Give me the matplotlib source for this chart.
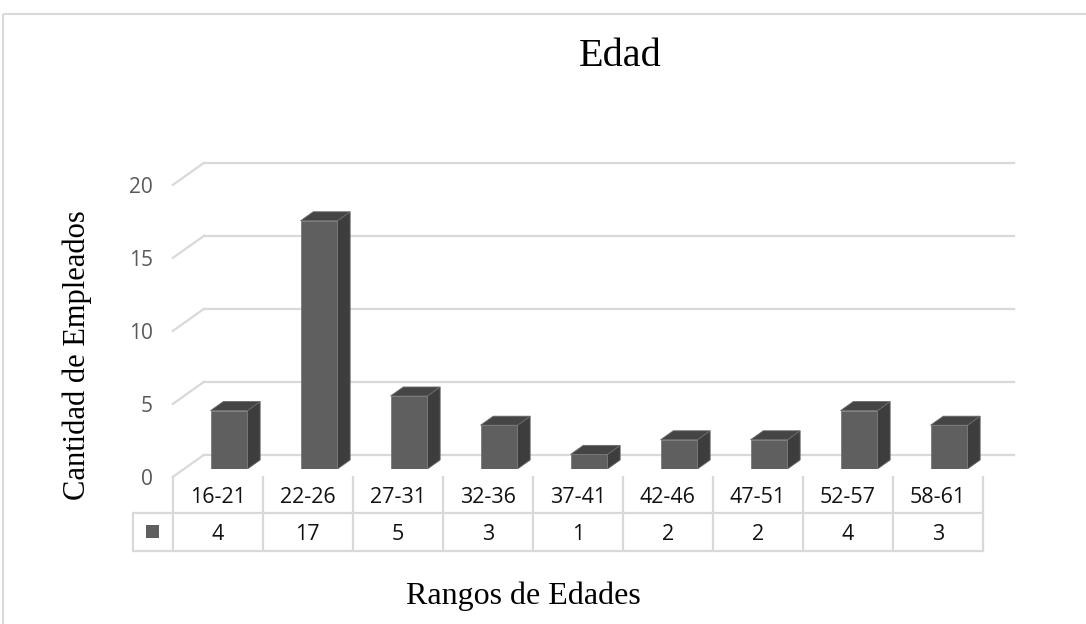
import matplotlib.pyplot as plt
from matplotlib.patches import Polygon, Rectangle

# data
rangos = ["16-21", "22-26", "27-31", "32-36", "37-41", "42-46", "47-51", "52-57", "58-61"]
empleados = [4, 17, 5, 3, 1, 2, 2, 4, 3]
y_ticks = [0, 5, 10, 15, 20]

W, H = 1086, 624
fig = plt.figure(figsize=(W / 100, H / 100), dpi=100)

# chart frame
frame = fig.add_axes([0, 0, 1, 1])
frame.set_xlim(0, W)
frame.set_ylim(H, 0)
frame.axis("off")
frame.add_patch(Rectangle((3, 14), W + 10, H, fill=False, ec="#d9d9d9", lw=1.5))

# plot area in the bars' front plane: 90 px per category, 14.6 px per unit
PX_X, PX_Y = 90.0, 14.6
left_px, base_px, top_px = 184, 469, 150
ax = fig.add_axes([left_px / W, (H - base_px) / H, 9 * PX_X / W, (base_px - top_px) / H])
ax.set_xlim(-0.5, 8.5)
ax.set_ylim(0, (base_px - top_px) / PX_Y)
ax.axis("off")

# oblique depth vector (31 px right, 22 px up) in data units
dx, dy = 31 / PX_X, 22 / PX_Y
f_front, f_back = -0.36, 0.64   # wall planes relative to bar front
f_bar = 0.41                    # depth of the bars
grid_c = "#d9d9d9"
sans = "Open Sans"

for v in y_ticks:
    x0, y0 = -0.5 + f_front * dx, v + f_front * dy
    x1, y1 = -0.5 + f_back * dx, v + f_back * dy
    ax.plot([x0, x1], [y0, y1], color=grid_c, lw=1.6, clip_on=False, zorder=1)
    ax.plot([x1, 8.5 + f_back * dx], [y1, y1], color=grid_c, lw=1.6, clip_on=False, zorder=1)
    ax.text(x0 - 0.22, y0 - 0.15, str(v), ha="right", va="center", fontsize=15,
            color="#595959", family=sans)

bw = 0.41
bx, by = f_bar * dx, f_bar * dy
for i, v in enumerate(empleados):
    l, r = i - bw / 2, i + bw / 2
    ax.add_patch(Polygon([(r, 0), (r + bx, by), (r + bx, v + by), (r, v)],
                         closed=True, fc="#3d3d3d", ec="#6a6a6a", lw=0.6, zorder=3))
    ax.add_patch(Polygon([(l, v), (r, v), (r + bx, v + by), (l + bx, v + by)],
                         closed=True, fc="#454545", ec="#6a6a6a", lw=0.6, zorder=3))
    ax.add_patch(Rectangle((l, 0), bw, v, fc="#5f5f5f", ec="#7a7a7a", lw=0.6, zorder=4))

# data table under the axis
tx0 = -0.5 + f_front * dx
t_top = f_front * dy
t_mid = t_top - 36 / PX_Y
t_bot = t_mid - 38 / PX_Y
t_leg = tx0 - 40 / PX_X
n = len(rangos)
tbl = dict(color=grid_c, lw=1.6, clip_on=False, zorder=1)
ax.plot([t_leg, tx0 + n], [t_mid, t_mid], **tbl)
ax.plot([t_leg, tx0 + n], [t_bot, t_bot], **tbl)
ax.plot([t_leg, t_leg], [t_mid, t_bot], **tbl)
for k in range(n + 1):
    ax.plot([tx0 + k, tx0 + k], [t_top, t_bot], **tbl)
for i, (lab, v) in enumerate(zip(rangos, empleados)):
    cx = tx0 + i + 0.5
    ax.text(cx, (t_top + t_mid) / 2 - 0.15, lab, ha="center", va="center",
            fontsize=15.5, color="#111111", family=sans)
    ax.text(cx, (t_mid + t_bot) / 2 - 0.15, str(v), ha="center", va="center",
            fontsize=15.5, color="#111111", family=sans)
lw_sq = 13 / PX_X
lh_sq = 13 / PX_Y
lcx, lcy = (t_leg + tx0) / 2, (t_mid + t_bot) / 2
ax.add_patch(Rectangle((lcx - lw_sq / 2, lcy - lh_sq / 2), lw_sq, lh_sq,
                       fc="#5f5f5f", ec="none", clip_on=False))

# titles
serif = "Liberation Serif"
fig.text(620 / W, 1 - 57 / H, "Edad", ha="center", va="center", fontsize=29, family=serif)
fig.text(523 / W, 1 - 596 / H, "Rangos de Edades", ha="center", va="center",
         fontsize=23, family=serif)
fig.text(77 / W, 1 - 355 / H, "Cantidad de Empleados", ha="center", va="center",
         rotation=90, fontsize=22, family=serif)

fig.savefig("out.png", dpi=100)
